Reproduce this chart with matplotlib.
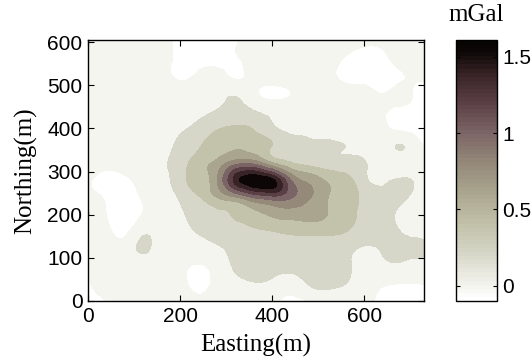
"""Gridded gravity anomaly map (Easting/Northing) with a continuous colour bar."""
import numpy as np
import matplotlib

matplotlib.use("Agg")
import matplotlib.pyplot as plt
import matplotlib.tri as mtri
from matplotlib.cm import ScalarMappable
from matplotlib.colors import LinearSegmentedColormap, Normalize

# grid nodes (m) and the anomaly sampled on them (mGal), one row per northing
EASTING_M = list(range(0, 761, 40))
NORTHING_M = list(range(0, 641, 40))
ANOMALY_MGAL = [
    [-0.08, 0.00, 0.10, 0.10, 0.10, 0.10, 0.06, 0.10, 0.10, 0.10, 0.05, -0.05, 0.02, 0.12, 0.10, 0.05, -0.04, -0.06, -0.05, -0.02],
    [-0.02, 0.08, 0.10, 0.10, 0.10, 0.06, -0.05, 0.06, 0.16, 0.19, 0.16, 0.10, 0.21, 0.23, 0.20, 0.10, 0.02, 0.00, 0.00, 0.02],
    [0.03, 0.10, 0.10, 0.10, 0.09, 0.05, -0.02, 0.08, 0.22, 0.27, 0.27, 0.25, 0.25, 0.26, 0.23, 0.14, 0.16, 0.17, 0.12, 0.10],
    [0.10, 0.10, 0.08, 0.23, 0.10, 0.10, 0.12, 0.17, 0.24, 0.30, 0.32, 0.31, 0.30, 0.29, 0.25, 0.18, 0.21, 0.22, 0.24, 0.15],
    [0.10, 0.05, -0.03, 0.16, 0.10, 0.13, 0.21, 0.27, 0.30, 0.36, 0.39, 0.43, 0.45, 0.44, 0.40, 0.30, 0.24, 0.20, 0.16, 0.10],
    [0.22, 0.00, -0.05, 0.01, 0.10, 0.17, 0.27, 0.34, 0.42, 0.53, 0.63, 0.68, 0.68, 0.60, 0.46, 0.36, 0.25, 0.18, 0.12, 0.10],
    [0.08, -0.02, -0.06, 0.02, 0.12, 0.22, 0.38, 0.60, 0.78, 1.01, 1.12, 1.02, 0.82, 0.61, 0.46, 0.36, 0.25, 0.23, 0.13, 0.10],
    [0.02, -0.05, -0.03, 0.06, 0.15, 0.30, 0.52, 0.78, 1.45, 1.68, 1.60, 1.02, 0.75, 0.58, 0.48, 0.25, 0.17, 0.22, 0.16, 0.10],
    [0.08, 0.05, 0.07, 0.10, 0.17, 0.30, 0.50, 0.66, 0.92, 0.93, 0.62, 0.42, 0.33, 0.28, 0.25, 0.21, 0.13, 0.10, 0.06, 0.04],
    [0.10, 0.10, 0.10, 0.10, 0.15, 0.24, 0.38, 0.50, 0.58, 0.52, 0.40, 0.28, 0.23, 0.22, 0.20, 0.14, 0.10, 0.21, 0.03, 0.02],
    [0.10, 0.10, 0.10, 0.10, 0.12, 0.17, 0.26, 0.38, 0.44, 0.38, 0.24, 0.15, 0.13, 0.12, 0.12, 0.10, 0.04, -0.04, -0.07, -0.05],
    [0.10, 0.10, 0.10, 0.10, 0.10, 0.12, 0.16, 0.21, 0.26, 0.21, 0.15, 0.11, 0.10, 0.10, 0.10, 0.07, 0.02, -0.04, -0.06, -0.04],
    [0.10, 0.10, 0.10, 0.10, 0.10, 0.10, 0.12, 0.15, 0.18, 0.05, -0.05, 0.00, 0.08, 0.10, 0.08, 0.06, 0.00, 0.04, -0.03, 0.00],
    [0.10, 0.10, 0.10, 0.10, 0.08, -0.03, 0.05, 0.08, -0.02, 0.06, 0.10, 0.10, 0.10, 0.05, -0.04, -0.06, -0.04, -0.01, 0.02, 0.05],
    [0.10, 0.10, 0.10, 0.10, 0.06, -0.04, -0.07, -0.05, -0.02, 0.05, 0.10, 0.10, 0.10, 0.08, -0.02, -0.07, -0.04, 0.06, 0.10, 0.10],
    [0.10, 0.10, 0.10, 0.10, 0.06, -0.04, -0.07, -0.06, -0.01, 0.06, 0.10, 0.10, 0.10, 0.10, 0.06, 0.02, 0.03, 0.08, 0.10, 0.10],
    [0.10, 0.10, 0.10, 0.10, 0.08, -0.05, -0.08, -0.08, -0.05, 0.05, 0.10, 0.10, 0.10, 0.10, 0.08, 0.08, 0.08, 0.10, 0.10, 0.10],
]

CONTOUR_LEVELS = [-1.0, 0.0, 0.2, 0.4, 0.6, 0.8, 1.0, 1.2, 1.38, 1.55, 5.0]
COLOR_RANGE = (-0.1, 1.61)
COLORBAR_TICKS = [0, 0.5, 1, 1.5]
COLORBAR_LABELS = ["0", "0.5", "1", "1.5"]
X_TICKS = [0, 200, 400, 600]
Y_TICKS = [0, 100, 200, 300, 400, 500, 600]

SANS = "Liberation Sans"
SERIF = "Liberation Serif"

# white -> grey-olive -> dusky red-brown -> black
cmap = LinearSegmentedColormap.from_list(
    "mgal",
    [
        (0.00, "#ffffff"),
        (0.06, "#f2f2ec"),
        (0.17, "#d8d8ca"),
        (0.29, "#c2c1aa"),
        (0.41, "#aba68f"),
        (0.53, "#948979"),
        (0.65, "#7b6465"),
        (0.76, "#5b4045"),
        (0.87, "#3a2527"),
        (0.96, "#0d0707"),
        (1.00, "#080404"),
    ],
    N=64,
)
norm = Normalize(*COLOR_RANGE)

fig = plt.figure(figsize=(5.32, 3.64), dpi=100)
ax = fig.add_axes([0.1654, 0.1731, 0.6316, 0.717])
cax = fig.add_axes([0.857, 0.1731, 0.0771, 0.717])

# smooth the gridded field with a cubic refinement before contouring
xx, yy = np.meshgrid(EASTING_M, NORTHING_M)
tri = mtri.Triangulation(xx.ravel(), yy.ravel())
tri_fine, z_fine = mtri.UniformTriRefiner(tri).refine_field(
    np.asarray(ANOMALY_MGAL).ravel(), subdiv=3
)

# each band takes the colour of its lower level
band_colors = [cmap(norm(max(lv, COLOR_RANGE[0]))) for lv in CONTOUR_LEVELS[:-1]]
ax.tricontourf(tri_fine, z_fine, levels=CONTOUR_LEVELS, colors=band_colors)

ax.set_xlim(0, 730)
ax.set_ylim(0, 605)
ax.set_xticks(X_TICKS)
ax.set_yticks(Y_TICKS)
ax.tick_params(direction="in", length=4, width=0.8, top=True, right=True,
               labelsize=15, pad=4)
for lab in ax.get_xticklabels() + ax.get_yticklabels():
    lab.set_fontfamily(SANS)
for sp in ax.spines.values():
    sp.set_linewidth(1.0)

ax.set_xlabel("Easting(m)", fontfamily=SERIF, fontsize=18)
ax.set_ylabel("Northing(m)", fontfamily=SERIF, fontsize=18)
ax.xaxis.set_label_coords(0.5, -0.125)
ax.yaxis.set_label_coords(-0.152, 0.5)

cb = fig.colorbar(ScalarMappable(norm=norm, cmap=cmap), cax=cax, ticks=COLORBAR_TICKS)
cb.set_ticklabels(COLORBAR_LABELS)
cb.outline.set_linewidth(1.0)
cax.tick_params(direction="in", length=3, width=0.8, left=True, right=True,
                labelsize=15, pad=4)
for lab in cax.get_yticklabels():
    lab.set_fontfamily(SANS)

fig.text(476 / 532, 1 - 15 / 364, "mGal", ha="center", va="center",
         fontfamily=SERIF, fontsize=18)

fig.savefig("out.png", dpi=100)
